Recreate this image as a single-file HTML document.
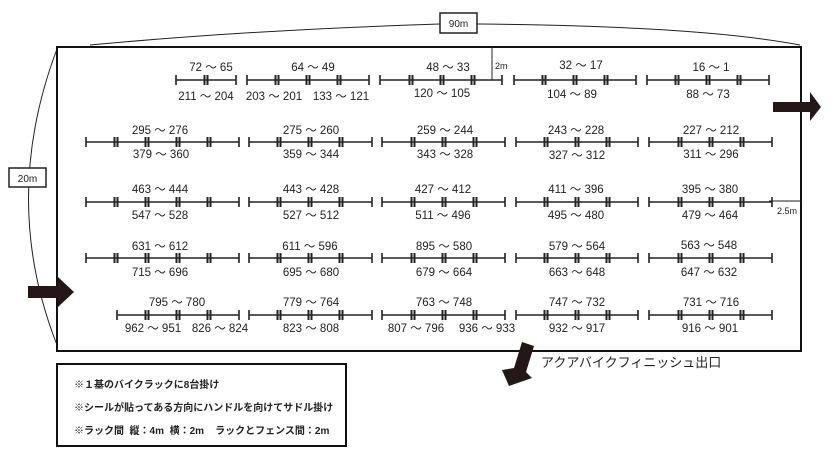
<!DOCTYPE html>
<html><head><meta charset="utf-8"><style>
html,body{margin:0;padding:0;background:#fff;}
svg{display:block;}
text{font-family:"Liberation Sans","Noto Sans CJK JP",sans-serif;fill:#222;}
.n{font-size:11.5px;text-anchor:middle;}
.b{font-size:10px;font-weight:bold;}
</style></head><body>
<svg width="839" height="462" viewBox="0 0 839 462" xmlns="http://www.w3.org/2000/svg">
<defs>
<g id="m"><rect x="-2.5" y="-5" width="2" height="10" fill="#222"/><rect x="0.5" y="-5" width="2" height="10" fill="#222"/></g>
<g id="t"><rect x="-0.8" y="-5" width="1.6" height="10" fill="#222"/></g>
</defs>
<path d="M90 45 Q250 30 440 24" fill="none" stroke="#222" stroke-width="1"/>
<path d="M477 24 Q700 26 800 45" fill="none" stroke="#222" stroke-width="1"/>
<path d="M57 49 Q0 200 57 345" fill="none" stroke="#222" stroke-width="1"/>
<rect x="440" y="13" width="37" height="20" fill="#fff" stroke="#222" stroke-width="1.5"/>
<text x="458.5" y="27" style="font-size:10px;text-anchor:middle">90m</text>
<rect x="9" y="168" width="37" height="19" fill="#fff" stroke="#222" stroke-width="1.5"/>
<text x="27.5" y="182" style="font-size:10px;text-anchor:middle">20m</text>
<rect x="57" y="47" width="744" height="304" fill="none" stroke="#111" stroke-width="2"/>
<line x1="492" y1="47" x2="492" y2="80" stroke="#222" stroke-width="1"/>
<text x="495" y="69" style="font-size:9px">2m</text>
<line x1="769" y1="201" x2="801" y2="201" stroke="#222" stroke-width="1"/>
<text x="777" y="214" style="font-size:9px">2.5m</text>
<polygon points="773,102 810,102 810,92 821,107 810,121 810,112 773,112" fill="#231815"/>
<polygon points="28,286 58,286 58,277 74,292 58,307 58,298 28,298" fill="#231815"/>
<polygon points="522,342 534,346 526,372 532,378 509,386 502,370 514,368" fill="#231815"/>
<text x="541" y="367" style="font-size:13px">アクアバイクフィニッシュ出口</text>
<rect x="57" y="364" width="289" height="82" fill="none" stroke="#111" stroke-width="2"/>
<text x="74" y="388" class="b">※１基のバイクラックに8台掛け</text>
<text x="74" y="411" class="b">※シールが貼ってある方向にハンドルを向けてサドル掛け</text>
<text x="74" y="434" class="b" xml:space="preserve">※ラック間  縦：4m  横：2m    ラックとフェンス間：2m</text>

<g stroke="#222" stroke-width="1.6" fill="none">
<line x1="176" y1="80" x2="236" y2="80"/><line x1="247" y1="80" x2="369" y2="80"/><line x1="380" y1="80" x2="502" y2="80"/><line x1="514" y1="80" x2="636" y2="80"/><line x1="647" y1="80" x2="769" y2="80"/>
<line x1="86" y1="142" x2="239" y2="142"/><line x1="249" y1="142" x2="372" y2="142"/><line x1="382" y1="142" x2="505" y2="142"/><line x1="516" y1="142" x2="638" y2="142"/><line x1="649" y1="142" x2="772" y2="142"/>
<line x1="86" y1="202" x2="239" y2="202"/><line x1="249" y1="202" x2="372" y2="202"/><line x1="382" y1="202" x2="505" y2="202"/><line x1="516" y1="202" x2="638" y2="202"/><line x1="649" y1="202" x2="772" y2="202"/>
<line x1="86" y1="258" x2="239" y2="258"/><line x1="249" y1="258" x2="372" y2="258"/><line x1="382" y1="258" x2="505" y2="258"/><line x1="516" y1="258" x2="638" y2="258"/><line x1="649" y1="258" x2="772" y2="258"/>
<line x1="117" y1="315" x2="239" y2="315"/><line x1="249" y1="315" x2="372" y2="315"/><line x1="382" y1="315" x2="505" y2="315"/><line x1="516" y1="315" x2="638" y2="315"/><line x1="649" y1="315" x2="772" y2="315"/>
</g>
<g transform="translate(0,80)">
<use href="#t" x="176"/><use href="#m" x="206"/><use href="#t" x="236"/>
<use href="#t" x="247"/><use href="#m" x="277"/><use href="#m" x="308"/><use href="#m" x="339"/><use href="#t" x="369"/>
<use href="#t" x="380"/><use href="#m" x="411"/><use href="#m" x="442"/><use href="#m" x="473"/><use href="#t" x="502"/>
<use href="#t" x="514"/><use href="#m" x="544"/><use href="#m" x="575"/><use href="#m" x="606"/><use href="#t" x="636"/>
<use href="#t" x="647"/><use href="#m" x="677"/><use href="#m" x="708"/><use href="#m" x="739"/><use href="#t" x="769"/>
</g>
<g id="r2" transform="translate(0,142)">
<use href="#t" x="86"/><use href="#m" x="116"/><use href="#m" x="147"/><use href="#m" x="178"/><use href="#m" x="209"/><use href="#t" x="239"/>
<use href="#t" x="249"/><use href="#m" x="279"/><use href="#m" x="310"/><use href="#m" x="341"/><use href="#t" x="372"/>
<use href="#t" x="382"/><use href="#m" x="413"/><use href="#m" x="444"/><use href="#m" x="475"/><use href="#t" x="505"/>
<use href="#t" x="516"/><use href="#m" x="546"/><use href="#m" x="577"/><use href="#m" x="608"/><use href="#t" x="638"/>
<use href="#t" x="649"/><use href="#m" x="680"/><use href="#m" x="711"/><use href="#m" x="742"/><use href="#t" x="772"/>
</g>
<use href="#r2" y="60"/>
<use href="#r2" y="116"/>
<g transform="translate(0,315)">
<use href="#t" x="117"/><use href="#m" x="147"/><use href="#m" x="178"/><use href="#m" x="209"/><use href="#t" x="239"/>
<use href="#t" x="249"/><use href="#m" x="279"/><use href="#m" x="310"/><use href="#m" x="341"/><use href="#t" x="372"/>
<use href="#t" x="382"/><use href="#m" x="413"/><use href="#m" x="444"/><use href="#m" x="475"/><use href="#t" x="505"/>
<use href="#t" x="516"/><use href="#m" x="546"/><use href="#m" x="577"/><use href="#m" x="608"/><use href="#t" x="638"/>
<use href="#t" x="649"/><use href="#m" x="680"/><use href="#m" x="711"/><use href="#m" x="742"/><use href="#t" x="772"/>
</g>
<g>
<text class="n" x="211" y="71">72 ～ 65</text><text class="n" x="206" y="100">211 ～ 204</text>
<text class="n" x="313" y="71">64 ～ 49</text><text class="n" x="274" y="100">203 ～ 201</text><text class="n" x="341" y="100">133 ～ 121</text>
<text class="n" x="448" y="71">48 ～ 33</text><text class="n" x="442" y="97">120 ～ 105</text>
<text class="n" x="581" y="69">32 ～ 17</text><text class="n" x="572" y="98">104 ～ 89</text>
<text class="n" x="711" y="71">16 ～ 1</text><text class="n" x="708" y="98">88 ～ 73</text>

<text class="n" x="160" y="134">295 ～ 276</text><text class="n" x="161" y="158">379 ～ 360</text>
<text class="n" x="311" y="134">275 ～ 260</text><text class="n" x="311" y="158">359 ～ 344</text>
<text class="n" x="445" y="134">259 ～ 244</text><text class="n" x="445" y="158">343 ～ 328</text>
<text class="n" x="576" y="134">243 ～ 228</text><text class="n" x="577" y="159">327 ～ 312</text>
<text class="n" x="711" y="134">227 ～ 212</text><text class="n" x="711" y="158">311 ～ 296</text>

<text class="n" x="160" y="193">463 ～ 444</text><text class="n" x="160" y="219">547 ～ 528</text>
<text class="n" x="311" y="193">443 ～ 428</text><text class="n" x="311" y="219">527 ～ 512</text>
<text class="n" x="443" y="193">427 ～ 412</text><text class="n" x="443" y="219">511 ～ 496</text>
<text class="n" x="576" y="193">411 ～ 396</text><text class="n" x="576" y="219">495 ～ 480</text>
<text class="n" x="710" y="193">395 ～ 380</text><text class="n" x="710" y="219">479 ～ 464</text>

<text class="n" x="160" y="250">631 ～ 612</text><text class="n" x="160" y="276">715 ～ 696</text>
<text class="n" x="310" y="250">611 ～ 596</text><text class="n" x="311" y="276">695 ～ 680</text>
<text class="n" x="444" y="250">895 ～ 580</text><text class="n" x="444" y="276">679 ～ 664</text>
<text class="n" x="577" y="250">579 ～ 564</text><text class="n" x="577" y="276">663 ～ 648</text>
<text class="n" x="709" y="249">563 ～ 548</text><text class="n" x="709" y="276">647 ～ 632</text>

<text class="n" x="177" y="306">795 ～ 780</text><text class="n" x="153" y="332">962 ～ 951</text><text class="n" x="220" y="332">826 ～ 824</text>
<text class="n" x="311" y="306">779 ～ 764</text><text class="n" x="311" y="332">823 ～ 808</text>
<text class="n" x="444" y="306">763 ～ 748</text><text class="n" x="416" y="332">807 ～ 796</text><text class="n" x="487" y="332">936 ～ 933</text>
<text class="n" x="577" y="306">747 ～ 732</text><text class="n" x="577" y="332">932 ～ 917</text>
<text class="n" x="711" y="306">731 ～ 716</text><text class="n" x="710" y="332">916 ～ 901</text>
</g>
</svg>
</body></html>
